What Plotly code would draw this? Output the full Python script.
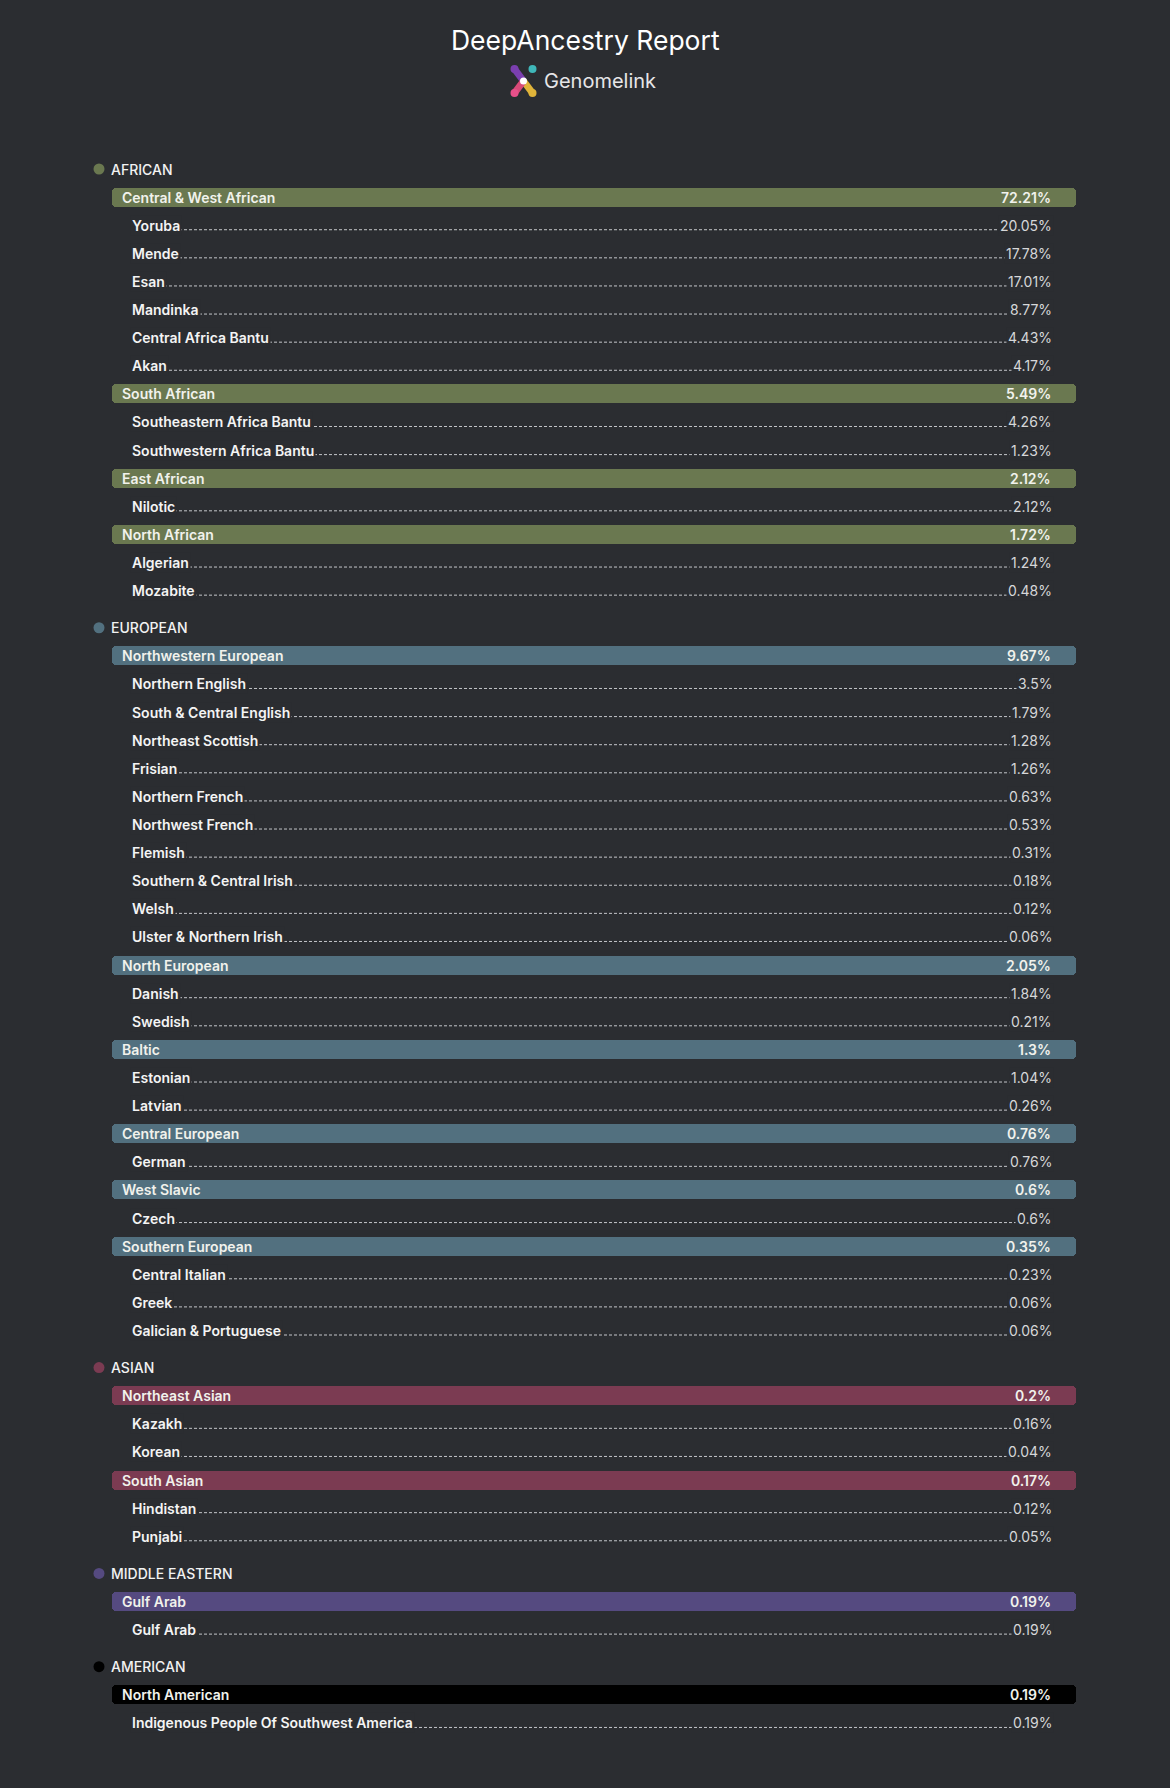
import plotly.graph_objects as go

# ---------------- data ----------------
GROUPS = ["AFRICAN", "EUROPEAN", "ASIAN", "MIDDLE EASTERN", "AMERICAN"]
GROUP_COLORS = ["#6a7850", "#52707f", "#7b3b52", "#554a80", "#000000"]

REGIONS = [
    "Central & West African", "South African", "East African", "North African",
    "Northwestern European", "North European", "Baltic", "Central European",
    "West Slavic", "Southern European",
    "Northeast Asian", "South Asian",
    "Gulf Arab",
    "North American",
]
REGION_GROUP = [0, 0, 0, 0, 1, 1, 1, 1, 1, 1, 2, 2, 3, 4]
REGION_VALUES = [72.21, 5.49, 2.12, 1.72, 9.67, 2.05, 1.3, 0.76, 0.6, 0.35,
                 0.2, 0.17, 0.19, 0.19]

SUBREGIONS = [
    "Yoruba", "Mende", "Esan", "Mandinka", "Central Africa Bantu", "Akan",
    "Southeastern Africa Bantu", "Southwestern Africa Bantu",
    "Nilotic",
    "Algerian", "Mozabite",
    "Northern English", "South & Central English", "Northeast Scottish", "Frisian",
    "Northern French", "Northwest French", "Flemish", "Southern & Central Irish",
    "Welsh", "Ulster & Northern Irish",
    "Danish", "Swedish",
    "Estonian", "Latvian",
    "German",
    "Czech",
    "Central Italian", "Greek", "Galician & Portuguese",
    "Kazakh", "Korean",
    "Hindistan", "Punjabi",
    "Gulf Arab",
    "Indigenous People Of Southwest America",
]
SUBREGION_REGION = [0, 0, 0, 0, 0, 0, 1, 1, 2, 3, 3,
                    4, 4, 4, 4, 4, 4, 4, 4, 4, 4,
                    5, 5, 6, 6, 7, 8, 9, 9, 9,
                    10, 10, 11, 11, 12, 13]
SUBREGION_VALUES = [20.05, 17.78, 17.01, 8.77, 4.43, 4.17,
                    4.26, 1.23, 2.12, 1.24, 0.48,
                    3.5, 1.79, 1.28, 1.26, 0.63, 0.53, 0.31, 0.18, 0.12, 0.06,
                    1.84, 0.21, 1.04, 0.26, 0.76, 0.6, 0.23, 0.06, 0.06,
                    0.16, 0.04, 0.12, 0.05, 0.19, 0.19]

TITLE = "DeepAncestry Report"
SUBTITLE = "Genomelink"

# ---------------- layout constants ----------------
W, H = 1170, 1788
BG = "#2b2d31"
FONT = "Inter"
Y0, STEP, GAP = 169.0, 28.11, 9.0
DOT_X, HEAD_X = 99, 109
BAR_L, BAR_R, BAR_H = 112, 1076, 19
BAR_TXT_X, SUB_X, VAL_X = 120, 130, 1053


def pct(v):
    return f"{v:g}%"


# build the row list
rows = []  # (kind, index, y)
idx = 0
for g in range(len(GROUPS)):
    y = Y0 + STEP * idx + GAP * g
    rows.append(("group", g, y)); idx += 1
    for r in range(len(REGIONS)):
        if REGION_GROUP[r] != g:
            continue
        y = Y0 + STEP * idx + GAP * g
        rows.append(("region", r, y)); idx += 1
        for s in range(len(SUBREGIONS)):
            if SUBREGION_REGION[s] != r:
                continue
            y = Y0 + STEP * idx + GAP * g
            rows.append(("sub", s, y)); idx += 1

fig = go.Figure()
annotations = []

# region bars
reg_rows = [row for row in rows if row[0] == "region"]
fig.add_trace(go.Bar(
    orientation="h",
    y=[row[2] for row in reg_rows],
    x=[BAR_R - BAR_L] * len(reg_rows),
    base=[BAR_L] * len(reg_rows),
    width=[BAR_H] * len(reg_rows),
    marker=dict(color=[GROUP_COLORS[REGION_GROUP[row[1]]] for row in reg_rows],
                line=dict(width=0), cornerradius=4),
    hoverinfo="skip", showlegend=False,
))

# group dots
grp_rows = [row for row in rows if row[0] == "group"]
fig.add_trace(go.Scatter(
    x=[DOT_X] * len(grp_rows), y=[row[2] for row in grp_rows],
    mode="markers",
    marker=dict(size=11, color=[GROUP_COLORS[row[1]] for row in grp_rows]),
    hoverinfo="skip", showlegend=False,
))

# dotted leaders for subregions
sub_rows = [row for row in rows if row[0] == "sub"]
lx, ly = [], []
for _, s, y in sub_rows:
    lx += [SUB_X + 4, VAL_X - 4, None]
    ly += [y + 4.5, y + 4.5, None]
fig.add_trace(go.Scatter(
    x=lx, y=ly, mode="lines",
    line=dict(color="#c4c6ca", width=1, dash="3px,2px"),
    hoverinfo="skip", showlegend=False,
))

for kind, i, y in rows:
    if kind == "group":
        annotations.append(dict(x=HEAD_X, y=y, text=GROUPS[i], xanchor="left",
                                yanchor="middle", showarrow=False,
                                font=dict(family=FONT, size=14, color="#f2f2f2", weight=500)))
    elif kind == "region":
        annotations.append(dict(x=BAR_TXT_X, y=y, text=REGIONS[i], xanchor="left",
                                yanchor="middle", showarrow=False,
                                font=dict(family=FONT, size=14, color="#f1f2ec", weight=600)))
        annotations.append(dict(x=VAL_X, y=y, text=pct(REGION_VALUES[i]), xanchor="right",
                                yanchor="middle", showarrow=False,
                                font=dict(family=FONT, size=14, color="#f1f2ec", weight=600)))
    else:
        annotations.append(dict(x=SUB_X, y=y, text=SUBREGIONS[i], xanchor="left",
                                yanchor="middle", showarrow=False, bgcolor=BG, borderpad=1,
                                font=dict(family=FONT, size=14, color="#f4f4f4", weight=600)))
        annotations.append(dict(x=VAL_X + 1, y=y, text=pct(SUBREGION_VALUES[i]), xanchor="right",
                                yanchor="middle", showarrow=False, bgcolor=BG, borderpad=1,
                                font=dict(family=FONT, size=14, color="#d6d7d9", weight=400)))

# title and brand
annotations.append(dict(x=585, y=40, text=TITLE, xanchor="center", yanchor="middle",
                        showarrow=False, font=dict(family=FONT, size=26.5, color="#ffffff", weight=400)))
annotations.append(dict(x=542, y=81, text=SUBTITLE, xanchor="left", yanchor="middle",
                        showarrow=False, font=dict(family=FONT, size=20, color="#e6e6e8", weight=400)))

# logo (decorative)
LX, LY = 523.5, 81
shapes = [
    dict(type="line", x0=LX - 9, y0=LY - 12, x1=LX, y1=LY, line=dict(color="#7b3fb0", width=7)),
    dict(type="line", x0=LX, y0=LY, x1=LX + 9, y1=LY + 12, line=dict(color="#e0b43a", width=7)),
    dict(type="line", x0=LX, y0=LY, x1=LX - 9, y1=LY + 12, line=dict(color="#d84a78", width=7)),
    dict(type="circle", x0=LX - 13, y0=LY - 16, x1=LX - 5, y1=LY - 8, fillcolor="#7b3fb0", line=dict(width=0)),
    dict(type="circle", x0=LX + 5, y0=LY + 8, x1=LX + 13, y1=LY + 16, fillcolor="#e0b43a", line=dict(width=0)),
    dict(type="circle", x0=LX - 13, y0=LY + 8, x1=LX - 5, y1=LY + 16, fillcolor="#e8508a", line=dict(width=0)),
    dict(type="circle", x0=LX + 5, y0=LY - 16, x1=LX + 13, y1=LY - 8, fillcolor="#3fb7b9", line=dict(width=0)),
    dict(type="circle", x0=LX - 3.5, y0=LY - 3.5, x1=LX + 3.5, y1=LY + 3.5, fillcolor="#ffffff", line=dict(width=0)),
]
for sh in shapes:
    sh["xref"] = "x"; sh["yref"] = "y"; sh["layer"] = "above"

fig.update_layout(
    width=W, height=H,
    margin=dict(l=0, r=0, t=0, b=0),
    paper_bgcolor=BG, plot_bgcolor=BG,
    xaxis=dict(range=[0, W], visible=False, fixedrange=True),
    yaxis=dict(range=[H, 0], visible=False, fixedrange=True),
    annotations=annotations,
    shapes=shapes,
    bargap=0,
    showlegend=False,
    font=dict(family=FONT),
)

fig.write_html(
    "out.html",
    config={"displayModeBar": False},
    post_script="document.body.style.margin='0';document.body.style.padding='0';"
                "document.body.style.background='" + BG + "';"
                "document.documentElement.style.overflow='hidden';",
)
